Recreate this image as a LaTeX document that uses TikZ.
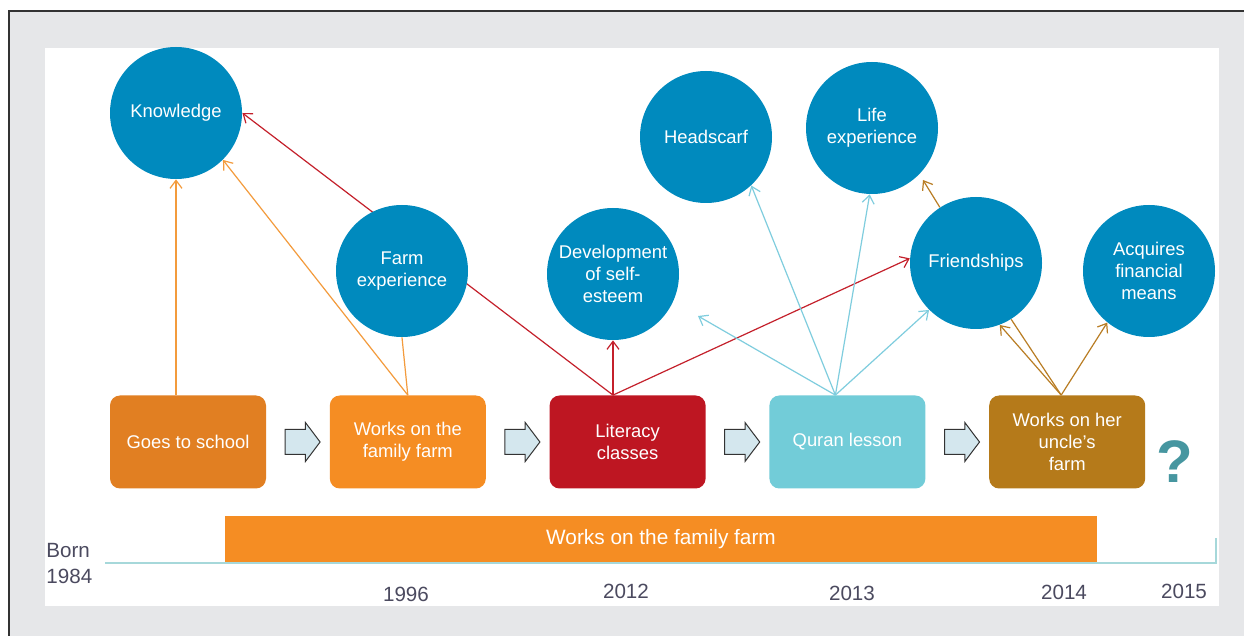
\documentclass[tikz,border=0pt]{standalone}
\usepackage{fontspec}
\setmainfont{Liberation Sans}
\usepackage{tikz}
\usetikzlibrary{arrows.meta,calc,positioning,shapes.arrows}
\definecolor{circblue}{RGB}{0,138,190}
\definecolor{schoolorange}{RGB}{225,127,34}
\definecolor{farmorange}{RGB}{245,141,35}
\definecolor{literacyred}{RGB}{190,22,34}
\definecolor{quranteal}{RGB}{114,204,216}
\definecolor{unclebrown}{RGB}{181,122,26}
\definecolor{framegray}{RGB}{230,231,233}
\definecolor{timeteal}{RGB}{166,216,218}
\definecolor{yeartext}{RGB}{75,74,95}
\definecolor{arrowfill}{RGB}{212,231,238}
\definecolor{linkorange}{RGB}{243,155,60}
\definecolor{linkred}{RGB}{196,32,43}
\definecolor{linkteal}{RGB}{127,205,222}
\definecolor{linkbrown}{RGB}{185,125,36}
\definecolor{questteal}{RGB}{70,150,160}
\pgfdeclarelayer{frame}
\pgfdeclarelayer{links}
\pgfsetlayers{frame,links,main}
\tikzstyle{stage}=[rectangle,rounded corners=5pt,minimum width=78pt,minimum height=46.5pt,inner sep=0,align=center,text=white,font=\fontsize{9.2}{11}\selectfont]
\tikzstyle{idea}=[circle,fill=circblue,minimum size=66pt,inner sep=0,align=center,text=white,font=\fontsize{9.2}{11}\selectfont]
\tikzstyle{nextarrow}=[single arrow,draw=black!80,fill=arrowfill,line width=0.5pt,inner xsep=0,inner ysep=6pt,minimum height=17.5pt,single arrow head extend=3.5pt,single arrow tip angle=106]
\tikzstyle{link}=[->,line width=0.6pt]
\tikzstyle{year}=[text=yeartext,font=\fontsize{10.3}{13}\selectfont]

\begin{document}
\begin{tikzpicture}[x=0.5pt,y=-0.5pt,>={Straight Barb[length=4pt,width=6pt]}]
	\useasboundingbox (0,0) rectangle (1244,636);
	\begin{pgfonlayer}{frame}
		\fill[framegray] (9,11) rectangle (1244,636);
		\draw[black!80,line width=1pt] (1244,11) -- (9,11) -- (9,636);
		\fill[white] (45,48) rectangle (1219,606);
	\end{pgfonlayer}
	% stages of her life
	\begin{scope}[node distance=31.5pt]
		\node[stage,fill=schoolorange] (school) at (188,442) {Goes to school};
		\node[stage,fill=farmorange] (famfarm) [right=of school] {Works on the\\family farm};
		\node[stage,fill=literacyred] (literacy) [right=of famfarm] {Literacy\\classes};
		\node[stage,fill=quranteal] (quran) [right=of literacy] {Quran lesson};
		\node[stage,fill=unclebrown] (uncle) [right=of quran] {Works on her\\uncle's\\farm};
	\end{scope}
	\node[nextarrow] (go1) at ($(school.east)!.5!(famfarm.west)$) {};
	\node[nextarrow] (go2) at ($(famfarm.east)!.5!(literacy.west)$) {};
	\node[nextarrow] (go3) at ($(literacy.east)!.5!(quran.west)$) {};
	\node[nextarrow] (go4) at ($(quran.east)!.5!(uncle.west)$) {};
	\node[text=questteal,font=\bfseries\fontsize{30}{30}\selectfont] (quest) at (1175,462) {?};
	% what she gained
	\node[idea] (know) at (176,113) {Knowledge};
	\node[idea] (farmexp) at (402,271) {Farm\\experience};
	\node[idea] (esteem) at (613,274) {Development\\of self-\\esteem};
	\node[idea] (scarf) at (706,137) {Headscarf};
	\node[idea] (lifeexp) at (872,128) {Life\\experience};
	\node[idea] (friends) at (976,263) {Friendships};
	\node[idea] (means) at (1149,271) {Acquires\\financial\\means};
	\coordinate (littop) at (esteem.south |- literacy.north);
	\coordinate (qtop) at ($(quran.north)+(-12,0)$);
	\coordinate (qend) at (698,316);
	\coordinate (fend) at (923,180);
	\coordinate (utop) at ($(uncle.north)+(-6,0)$);
	\begin{pgfonlayer}{links}
		\draw[link,linkorange] (know.south |- school.north) -- (know.south);
		\draw[link,linkorange] (famfarm.north) -- (know.-45);
		\draw[linkorange,line width=0.6pt] (famfarm.north) -- (farmexp.south);
		\draw[link,linkred] (littop) -- (know.east);
		\draw[link,linkred] (littop) -- (esteem.south);
		\draw[link,linkred] (littop) -- (friends.176);
		\draw[link,linkteal] (qtop) -- (qend);
		\draw[link,linkteal] (qtop) -- (scarf.-47);
		\draw[link,linkteal] (qtop) -- (lifeexp.-92);
		\draw[link,linkteal] (qtop) -- (friends.-135);
		\draw[link,linkbrown] (friends.123) -- (fend);
		\draw[link,linkbrown] (utop) -- (friends.-69);
		\draw[linkbrown,line width=0.6pt] (utop) -- (friends.-58);
		\draw[link,linkbrown] (utop) -- (means.231);
	\end{pgfonlayer}
	% time line
	\coordinate (tstart) at (105,563);
	\coordinate (tend) at (1216,563);
	\coordinate (ttop) at (1216,538);
	\draw[timeteal,line width=1pt] (tstart) -- (tend) -- (ttop);
	\node[fill=farmorange,minimum width=436pt,minimum height=23pt,inner sep=0,text=white,font=\fontsize{10.4}{12}\selectfont] (farmbar) at (661,539) {Works on the family farm};
	\node[year,align=left,anchor=west,inner sep=0] (born) at (46,564) {Born\\1984};
	\node[year] (y1996) at (406,594) {1996};
	\node[year] (y2012) at (626,591) {2012};
	\node[year] (y2013) at (852,593) {2013};
	\node[year] (y2014) at (1064,592) {2014};
	\node[year] (y2015) at (1184,591) {2015};
\end{tikzpicture}
\end{document}
